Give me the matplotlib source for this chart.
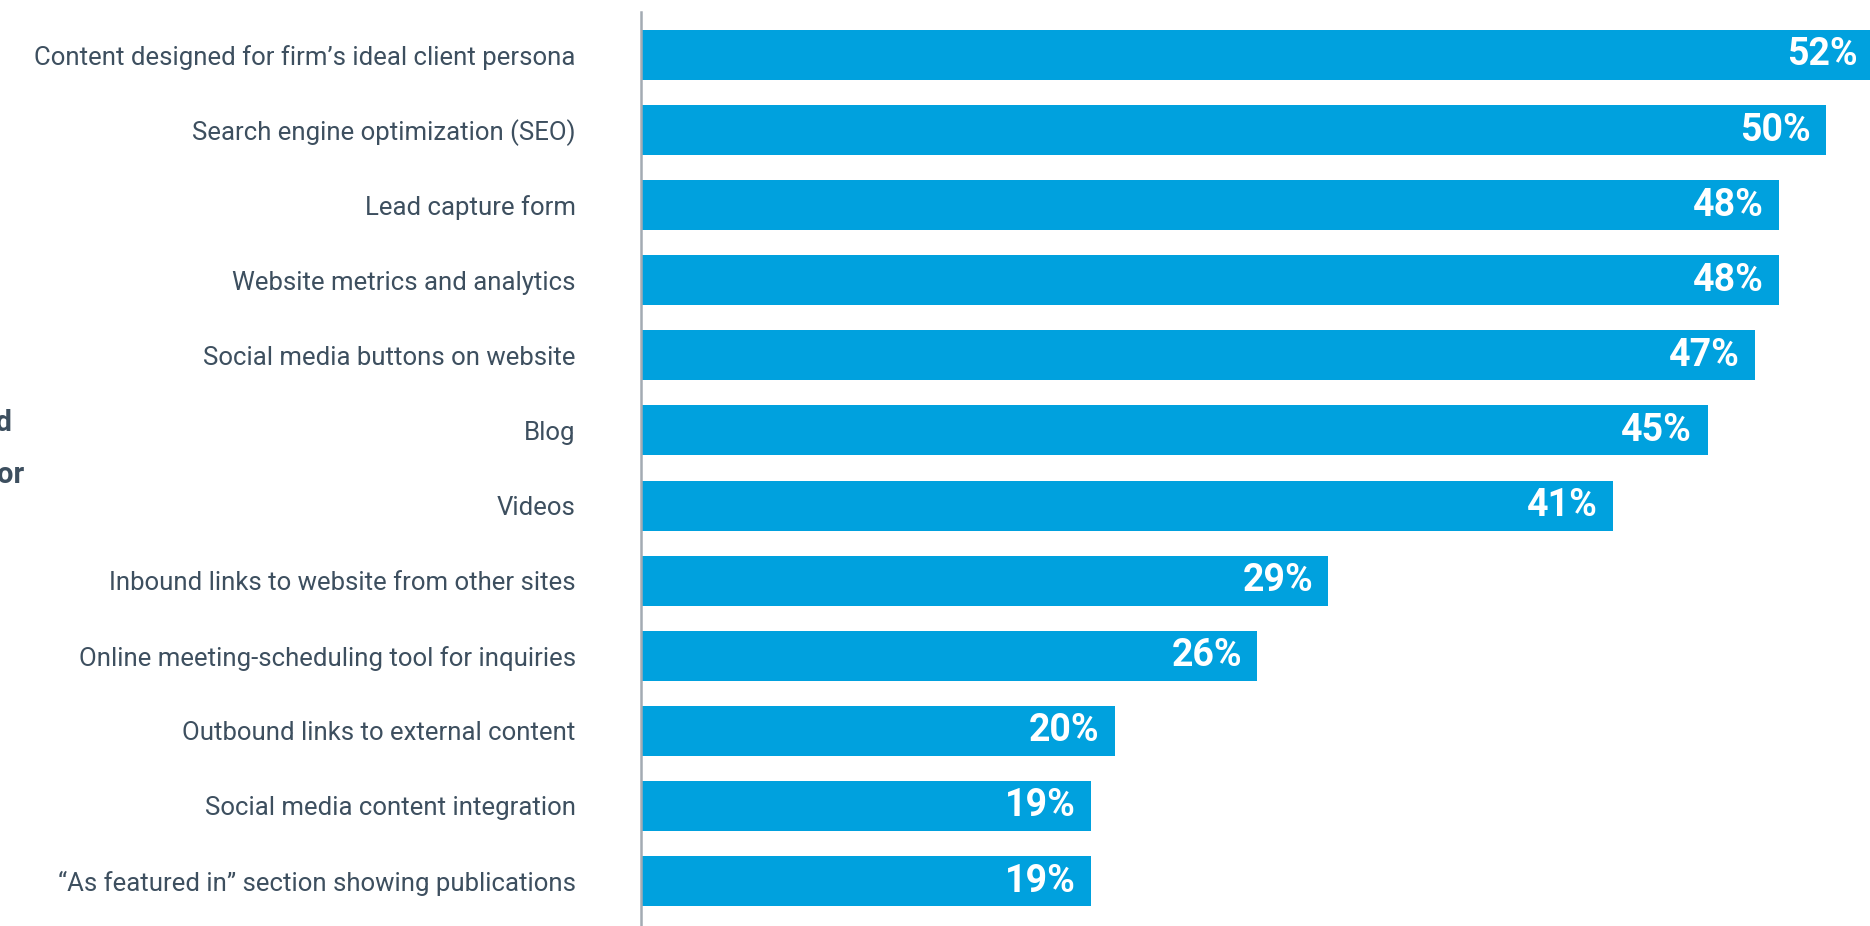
import matplotlib.pyplot as plt

plt.rcParams['font.family'] = ['Roboto', 'DejaVu Sans']

features = [
    "Content designed for firm\u2019s ideal client persona",
    "Search engine optimization (SEO)",
    "Lead capture form",
    "Website metrics and analytics",
    "Social media buttons on website",
    "Blog",
    "Videos",
    "Inbound links to website from other sites",
    "Online meeting-scheduling tool for inquiries",
    "Outbound links to external content",
    "Social media content integration",
    "\u201cAs featured in\u201d section showing publications",
]
shares = [52, 50, 48, 48, 47, 45, 41, 29, 26, 20, 19, 19]

bar_color = '#00a1de'
text_color = '#3d4f5f'

fig = plt.figure(figsize=(18.7, 9.26), dpi=100)
ax = fig.add_axes([641 / 1870, 0, 1 - 641 / 1870, 1])

pos = list(range(len(features)))
ax.barh(pos, shares, height=0.666, color=bar_color)

for y, v in zip(pos, shares):
    ax.annotate(f"{v}%", xy=(v, y), xytext=(-11, 0), textcoords='offset points',
                ha='right', va='center', color='white', fontsize=27,
                fontweight='bold', annotation_clip=False)

ax.set_xlim(0, (1870 - 641) / 23.7)
ax.set_ylim(11.598, -0.732)

ax.set_yticks(pos)
ax.set_yticklabels(features, fontsize=18.5, color=text_color)
ax.tick_params(axis='y', length=0, pad=47)
ax.set_xticks([])

for side in ['top', 'right', 'bottom']:
    ax.spines[side].set_visible(False)
ax.spines['left'].set_color('#a3abb3')
ax.spines['left'].set_linewidth(1.8)
ax.spines['left'].set_bounds(-0.573, 11.598)

# title text running off the left side
fig.text(12 / 1870, 1 - 423 / 926, "Website features used", ha='right', va='center',
         fontsize=21, fontweight='bold', color=text_color)
fig.text(24 / 1870, 1 - 475 / 926, "by high-growth firms for", ha='right', va='center',
         fontsize=21, fontweight='bold', color=text_color)

fig.savefig('out.png', dpi=100)
